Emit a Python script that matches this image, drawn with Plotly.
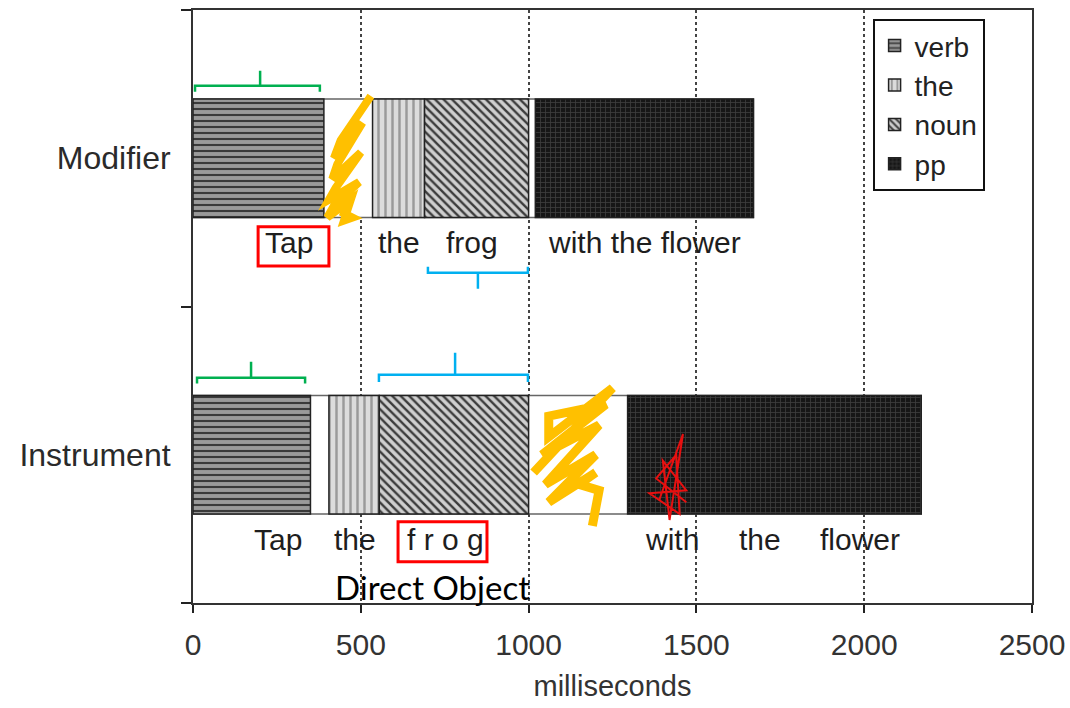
import plotly.graph_objects as go

# ---------------- data (milliseconds) ----------------
conditions = ["Modifier", "Instrument"]
verb_start = [0, 0]
verb_end = [390, 350]
the_start = [535, 405]
the_end = [690, 555]
noun_start = [690, 555]
noun_end = [1000, 1000]
pp_start = [1020, 1295]
pp_end = [1670, 2170]

x_ticks = [0, 500, 1000, 1500, 2000, 2500]

# words under the bars
mod_words = ["Tap", "the", "frog", "with the flower"]
mod_word_x = [286, 614, 831, 1345]
inst_words = ["Tap", "the", "f r o g", "with", "the", "flower"]
inst_word_x = [253, 483, 751, 1427, 1690, 1988]

FONT = "Liberation Sans, Arial, sans-serif"
BW = 0.4

fig = go.Figure()

# white background bar (gaps) with outline
fig.add_trace(go.Bar(
    y=conditions, x=pp_end, base=[0, 0], orientation="h", width=BW,
    marker=dict(color="white", line=dict(color="#666", width=1.5)),
    showlegend=False, hoverinfo="skip"))


def seg(name, start, end, bg, fg, shape, size, solidity):
    fig.add_trace(go.Bar(
        name=name, y=conditions,
        x=[e - s for s, e in zip(start, end)], base=start,
        orientation="h", width=BW,
        marker=dict(color=bg, line=dict(color="#222", width=1.5),
                    pattern=dict(shape=shape, bgcolor=bg, fgcolor=fg,
                                 size=size, solidity=solidity,
                                 fillmode="replace")),
    ))


seg("verb", verb_start, verb_end, "#9a9a9a", "#3a3a3a", "-", 6, 0.35)
seg("the", the_start, the_end, "#dcdcdc", "#9a9a9a", "|", 7, 0.35)
seg("noun", noun_start, noun_end, "#cfcfcf", "#3c3c3c", "\\", 6, 0.4)
seg("pp", pp_start, pp_end, "#161616", "#3d3d3d", "+", 5, 0.3)

WORD_FONT = dict(family=FONT, size=30, color="#1e1e1e")
annotations = []
for w, x in zip(mod_words, mod_word_x):
    annotations.append(dict(x=x, y=0.715, xref="x", yref="y", text=w,
                            showarrow=False, font=WORD_FONT))
for w, x in zip(inst_words, inst_word_x):
    annotations.append(dict(x=x, y=-0.287, xref="x", yref="y", text=w,
                            showarrow=False, font=WORD_FONT))
annotations.append(dict(x=715, y=-0.445, xref="x", yref="y", text="Direct Object",
                        showarrow=False, font=dict(family="Lato, Carlito, sans-serif", size=33, color="black")))

shapes = []
# red boxes
shapes.append(dict(type="rect", xref="x", yref="y", x0=194, x1=405, y0=0.637, y1=0.769,
                   line=dict(color="#ff0000", width=3)))
shapes.append(dict(type="rect", xref="x", yref="y", x0=611, x1=876, y0=-0.361, y1=-0.226,
                   line=dict(color="#ff0000", width=3)))


def bracket(x0, x1, xm, y, ytip, hook, color):
    p = (f"M {x0},{y - hook} L {x0},{y} L {x1},{y} L {x1},{y - hook} "
         f"M {xm},{y} L {xm},{ytip}")
    return dict(type="path", xref="x", yref="y", path=p, line=dict(color=color, width=2.5))


shapes.append(bracket(6, 378, 200, 1.2445, 1.295, 0.02, "#00b050"))
shapes.append(bracket(12, 334, 173, 0.26, 0.314, 0.02, "#00b050"))
shapes.append(bracket(700, 998, 849, 0.614, 0.56, -0.02, "#00b0f0"))
shapes.append(bracket(554, 998, 781, 0.27, 0.344, 0.025, "#00b0f0"))


def scribble(pts, color, width):
    p = "M " + " L ".join(f"{x},{y}" for x, y in pts)
    return dict(type="path", xref="x", yref="y", path=p,
                line=dict(color=color, width=width))


shapes.append(scribble([(530, 1.21), (440, 1.06), (420, 1.0), (505, 1.12), (430, 0.98),
                        (415, 0.93), (500, 1.02), (425, 0.9), (405, 0.86), (495, 0.92),
                        (420, 0.84), (400, 0.8), (470, 0.86), (450, 0.79), (475, 0.8),
                        (440, 0.82)], "#ffc000", 8))
shapes.append(scribble([(1015, -0.06), (1250, 0.225), (1060, 0.06), (1060, 0.13),
                        (1230, 0.17), (1040, 0.0), (1210, 0.1), (1050, -0.1),
                        (1200, 0.0), (1060, -0.16), (1200, -0.06), (1150, -0.1),
                        (1210, -0.12), (1190, -0.24)], "#ffc000", 9))
shapes.append(scribble([(1390, -0.15), (1460, 0.07), (1420, -0.22), (1400, -0.02),
                        (1470, -0.12), (1360, -0.13), (1450, -0.2), (1440, 0.0),
                        (1380, -0.08), (1470, -0.16)], "#e81010", 2))

fig.update_layout(
    width=1070, height=708,
    margin=dict(l=193, r=38, t=10, b=105),
    paper_bgcolor="white", plot_bgcolor="white",
    barmode="overlay",
    font=dict(family=FONT, size=30, color="#2a2a2a"),
    xaxis=dict(range=[0, 2500], tickvals=x_ticks, ticks="outside", ticklen=8,
               tickwidth=2, tickcolor="#222", automargin=False,
               ticklabelstandoff=6,
               showline=True, linecolor="#333", linewidth=2, mirror=True,
               showgrid=True, griddash="dot", gridcolor="#444", gridwidth=2,
               zeroline=False,
               tickfont=dict(size=30, color="#333"),
               title=dict(text="milliseconds", font=dict(size=29, color="#333"), standoff=16)),
    yaxis=dict(categoryorder="array", categoryarray=["Instrument", "Modifier"],
               range=[-0.5, 1.5], tickson="boundaries", ticks="outside", ticklen=10,
               tickwidth=2, tickcolor="#222", automargin=False,
               ticklabelstandoff=14,
               showline=True, linecolor="#333", linewidth=2, mirror=True,
               showgrid=False, zeroline=False,
               tickfont=dict(size=32, color="#2a2a2a")),
    legend=dict(x=0.81, y=0.985, xanchor="left", yanchor="top",
                bordercolor="#111", borderwidth=2, bgcolor="white",
                font=dict(size=28, color="#222"), tracegroupgap=0,
                itemwidth=30),
    annotations=annotations,
    shapes=shapes,
)

# remove the default page margin so the 1070x708 figure fills the window exactly
fig.write_html("out.html",
               config={"displayModeBar": False},
               post_script="document.body.style.margin='0';document.body.style.overflow='hidden';")
